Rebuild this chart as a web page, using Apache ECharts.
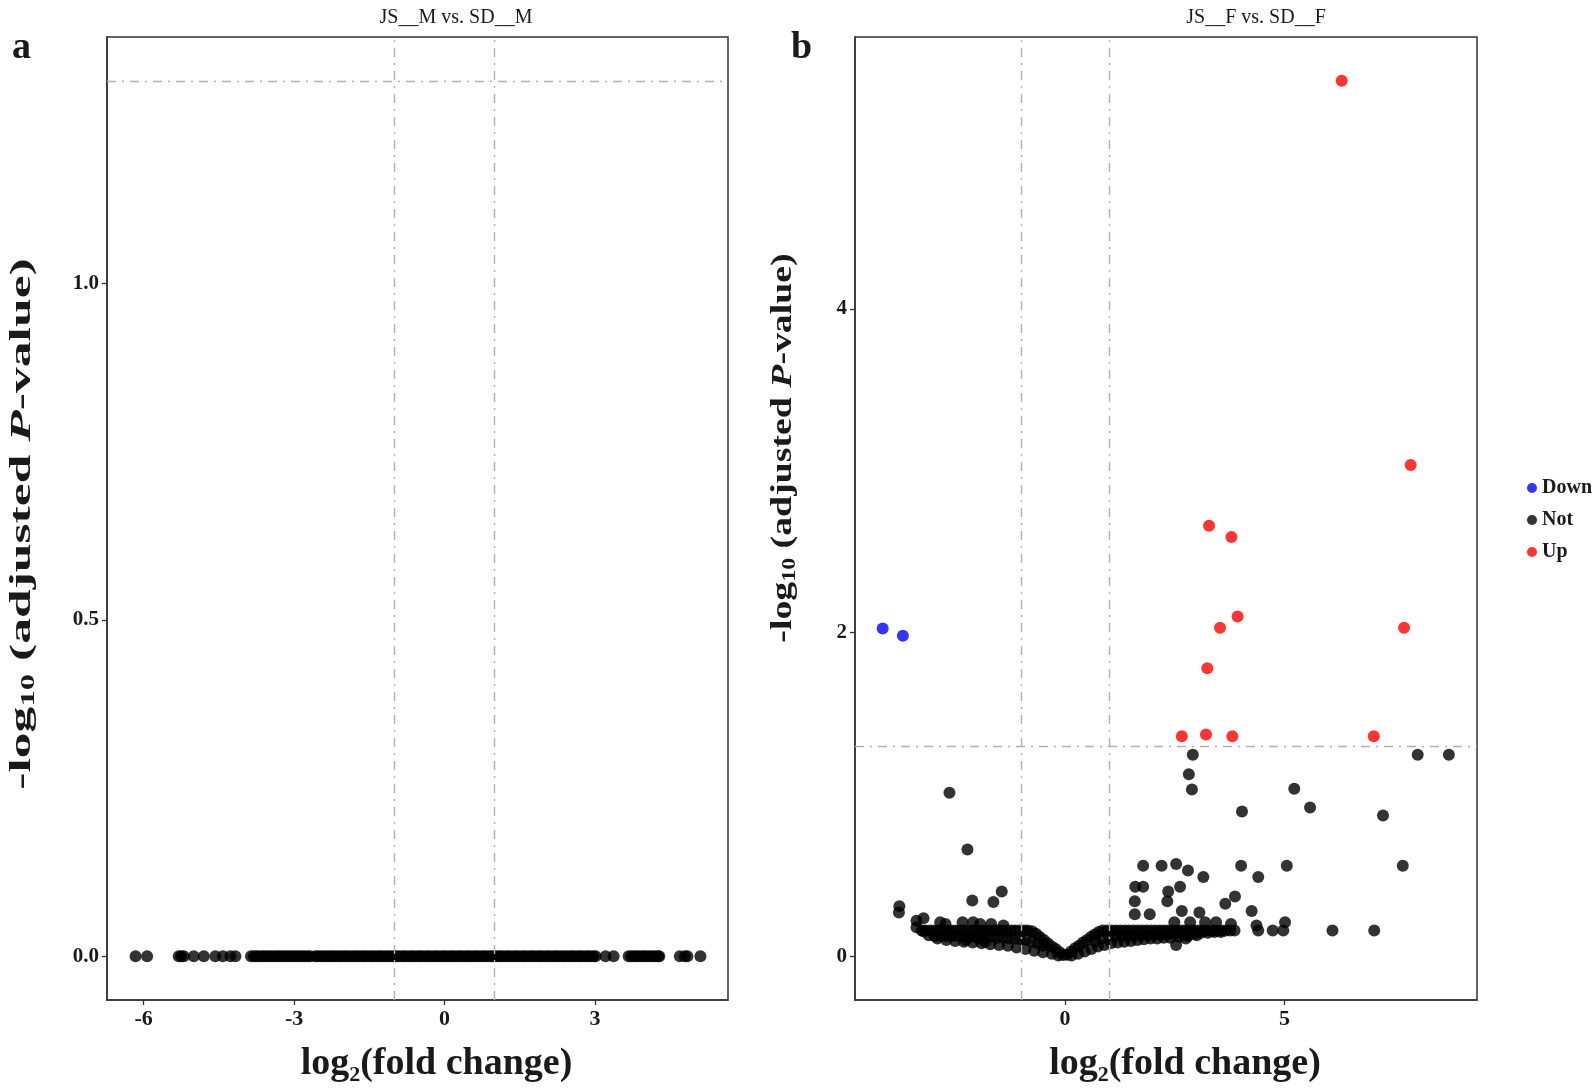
<!DOCTYPE html>
<html>
<head>
<meta charset="utf-8">
<script src="https://cdn.jsdelivr.net/npm/echarts@6/dist/echarts.min.js"></script>
<style>
  html, body { margin: 0; padding: 0; background: #fff; }
  #chart { width: 1595px; height: 1091px; }
</style>
</head>
<body>
<div id="chart"></div>
<script>
// panel a: JS__M vs. SD__M  (every gene sits at -log10 padj = 0)
const aNotX = [
  -6.16, -5.93, -5.30, -5.25, -5.20, -5.00, -4.80, -4.57, -4.42, -4.27, -4.17,
  -3.86, -3.80, -3.75, -3.70, -3.64, -3.59, -3.53, -3.48, -3.43, -3.37, -3.32, -3.27,
  -3.21, -3.16, -3.11, -3.05, -3.00, -2.95, -2.89, -2.84, -2.79, -2.73, -2.68,
  -2.58, -2.53, -2.47, -2.42, -2.37, -2.31, -2.26, -2.21, -2.15, -2.10, -2.05, -1.99,
  -1.94, -1.89, -1.83, -1.78, -1.73, -1.67, -1.62, -1.57, -1.51, -1.46, -1.41, -1.35,
  -1.30, -1.25, -1.19, -1.14, -1.09, -1.03, -0.98, -0.93, -0.87, -0.82, -0.77, -0.71,
  -0.66, -0.61, -0.55, -0.50, -0.45, -0.39, -0.34, -0.29, -0.23, -0.18, -0.13, -0.07,
  -0.02, 0.03, 0.09, 0.14, 0.19, 0.25, 0.30, 0.35, 0.41, 0.46, 0.51, 0.57, 0.62, 0.67,
  0.73, 0.78, 0.83, 0.89, 0.94, 0.99, 1.05, 1.10, 1.15, 1.21, 1.26, 1.31, 1.37, 1.42,
  1.47, 1.53, 1.58, 1.63, 1.69, 1.74, 1.79, 1.85, 1.90, 1.95, 2.01, 2.06, 2.11, 2.17,
  2.22, 2.27, 2.33, 2.38, 2.43, 2.49, 2.54, 2.59, 2.65, 2.70, 2.75, 2.81, 2.86, 2.91,
  2.97, 3.01, 3.21, 3.37,
  3.67, 3.72, 3.78, 3.83, 3.88, 3.94, 3.99, 4.04, 4.10, 4.15, 4.20, 4.26, 4.28,
  4.69, 4.79, 4.84, 5.10
];

// panel b: JS__F vs. SD__F
const bDown = [[-4.15, 2.025], [-3.69, 1.98]];
const bUp = [
  [6.30, 5.41], [7.87, 3.035], [3.28, 2.66], [3.79, 2.59], [3.93, 2.10], [3.53, 2.03],
  [7.72, 2.03], [3.24, 1.78], [2.66, 1.36], [3.21, 1.37], [3.81, 1.36], [7.03, 1.36]
];
// dense V-shaped band of non-significant genes
const bNotBand = [
  // upper edge, left flat part
  [-3.26, 0.16], [-3.17, 0.16], [-3.07, 0.16], [-2.97, 0.16], [-2.88, 0.16], [-2.78, 0.16],
  [-2.68, 0.16], [-2.59, 0.16], [-2.49, 0.16], [-2.39, 0.16], [-2.30, 0.16], [-2.20, 0.16],
  [-2.10, 0.16], [-2.01, 0.16], [-1.91, 0.16], [-1.81, 0.16], [-1.72, 0.16], [-1.62, 0.16],
  [-1.52, 0.16], [-1.43, 0.16], [-1.33, 0.16], [-1.23, 0.16], [-1.14, 0.16], [-1.04, 0.16],
  [-0.94, 0.16], [-0.85, 0.16], [-0.75, 0.155],
  // V arms
  [-0.66, 0.14], [-0.57, 0.12], [-0.48, 0.10], [-0.39, 0.08], [-0.30, 0.06], [-0.21, 0.045],
  [-0.12, 0.025], [-0.04, 0.008],
  [0.05, 0.01], [0.14, 0.03], [0.23, 0.05], [0.32, 0.065], [0.41, 0.085], [0.50, 0.10],
  [0.59, 0.12], [0.68, 0.135], [0.77, 0.15],
  // upper edge, right flat part
  [0.86, 0.16], [0.96, 0.16], [1.06, 0.16], [1.16, 0.16], [1.26, 0.16], [1.36, 0.16],
  [1.46, 0.16], [1.56, 0.16], [1.66, 0.16], [1.76, 0.16], [1.86, 0.16], [1.96, 0.16],
  [2.06, 0.16], [2.16, 0.16], [2.26, 0.16], [2.36, 0.16], [2.46, 0.16], [2.56, 0.16],
  [2.66, 0.16], [2.76, 0.16], [2.86, 0.16], [2.96, 0.16], [3.06, 0.16], [3.16, 0.16],
  [3.26, 0.16], [3.36, 0.16], [3.46, 0.16], [3.56, 0.16], [3.66, 0.16], [3.76, 0.16],
  [3.86, 0.16],
  // middle, left
  [-3.10, 0.13], [-2.97, 0.125], [-2.84, 0.125], [-2.71, 0.125], [-2.58, 0.125], [-2.45, 0.125],
  [-2.32, 0.125], [-2.19, 0.125], [-2.06, 0.12], [-1.93, 0.12], [-1.80, 0.12], [-1.67, 0.12],
  [-1.54, 0.115], [-1.41, 0.115], [-1.28, 0.11], [-1.15, 0.11], [-1.02, 0.105], [-0.89, 0.10],
  [-0.76, 0.09], [-0.63, 0.08], [-0.50, 0.065],
  // lower edge, left
  [-2.90, 0.11], [-2.70, 0.10], [-2.50, 0.095], [-2.30, 0.09], [-2.10, 0.085], [-1.90, 0.08],
  [-1.70, 0.075], [-1.50, 0.07], [-1.30, 0.065], [-1.10, 0.055], [-0.90, 0.045], [-0.70, 0.035],
  [-0.50, 0.025], [-0.30, 0.015], [-0.15, 0.005],
  // middle, right
  [0.70, 0.09], [0.85, 0.11], [1.00, 0.125], [1.15, 0.125], [1.30, 0.125], [1.45, 0.125],
  [1.60, 0.13], [1.75, 0.13], [1.90, 0.13], [2.05, 0.135], [2.20, 0.135], [2.35, 0.135],
  [2.50, 0.14], [2.65, 0.14], [2.80, 0.14], [2.95, 0.14], [3.10, 0.145], [3.25, 0.145],
  [3.40, 0.15], [3.55, 0.15],
  // lower edge, right
  [0.15, 0.005], [0.30, 0.015], [0.45, 0.03], [0.60, 0.045], [0.75, 0.06], [0.90, 0.07],
  [1.05, 0.08], [1.20, 0.085], [1.35, 0.09], [1.50, 0.095], [1.65, 0.10], [1.80, 0.105],
  [1.95, 0.11], [2.10, 0.11], [2.25, 0.115], [2.40, 0.115], [2.60, 0.12], [2.80, 0.125],
  [3.00, 0.13]
];
// scattered non-significant genes
const bNotScatter = [
  [-3.77, 0.31], [-3.78, 0.27], [-3.38, 0.22], [-3.22, 0.235], [-3.38, 0.18], [-3.22, 0.155],
  [-2.84, 0.21], [-2.72, 0.20], [-2.33, 0.21], [-2.09, 0.21], [-1.93, 0.20], [-1.68, 0.20],
  [-1.40, 0.19], [-2.25, 0.10], [-1.97, 0.11], [-1.82, 0.09], [-2.11, 0.345], [-1.63, 0.335],
  [-1.44, 0.40], [-2.22, 0.66], [-2.63, 1.01],
  [2.91, 1.245], [2.82, 1.125], [2.89, 1.03], [4.03, 0.895], [1.78, 0.56], [2.20, 0.56],
  [2.53, 0.57], [2.80, 0.53], [3.15, 0.49], [4.01, 0.56], [4.40, 0.49], [1.60, 0.43],
  [1.78, 0.43], [2.35, 0.40], [2.62, 0.43], [2.33, 0.34], [1.59, 0.34], [3.87, 0.37],
  [3.65, 0.325], [1.59, 0.26], [1.93, 0.26], [2.66, 0.28], [3.06, 0.27], [4.25, 0.28],
  [2.49, 0.21], [2.85, 0.21], [3.19, 0.21], [3.44, 0.21], [3.78, 0.20], [4.36, 0.19],
  [4.40, 0.16], [4.73, 0.16], [4.97, 0.16], [5.01, 0.21], [2.53, 0.07], [2.75, 0.11],
  [5.22, 1.035], [5.58, 0.92], [7.24, 0.87], [5.05, 0.56], [7.69, 0.56], [6.09, 0.16],
  [7.04, 0.16], [8.03, 1.245], [8.74, 1.245]
];

// tick labels / thresholds
const aXTicks = [-6, -3, 0, 3];
const aYTicks = [0, 0.5, 1.0];
const bXTicks = [0, 5];
const bYTicks = [0, 2, 4];
const fcCut = [-1, 1];
const padjCut = 1.301; // -log10(0.05)

const serif = '"Liberation Serif", "DejaVu Serif", serif';
const ink = '#1a1a1a';

const myChart = echarts.init(document.getElementById('chart'));

function xAxisOf(idx, min, max, ticks) {
  return {
    type: 'value', gridIndex: idx, min: min, max: max,
    name: '{a|log}{s|2}{a|(fold change)}',
    nameLocation: 'middle', nameGap: 42,
    nameTextStyle: {
      padding: [0, 0, 0, 38],
      rich: {
        a: { fontFamily: serif, fontWeight: 'bold', fontSize: 38, color: ink, lineHeight: 44 },
        s: { fontFamily: serif, fontWeight: 'bold', fontSize: 22, color: ink, lineHeight: 22, verticalAlign: 'bottom' }
      }
    },
    axisLine: { show: true, onZero: false, lineStyle: { color: '#333', width: 1.5 } },
    axisTick: { show: true, length: 5, customValues: ticks, lineStyle: { color: '#333', width: 1.3 } },
    axisLabel: { customValues: ticks, fontFamily: serif, fontWeight: 'bold', fontSize: 22, color: ink, margin: 8 },
    splitLine: { show: false }
  };
}

function yAxisOf(idx, min, max, ticks, fmt) {
  return {
    type: 'value', gridIndex: idx, min: min, max: max,
    axisLine: { show: true, onZero: false, lineStyle: { color: '#333', width: 1.5 } },
    axisTick: { show: true, length: 5, customValues: ticks, lineStyle: { color: '#333', width: 1.3 } },
    axisLabel: { customValues: ticks, formatter: fmt, fontFamily: serif, fontWeight: 'bold', fontSize: 21, color: ink, margin: 8 },
    splitLine: { show: false }
  };
}

// -log10 (adjusted P-value), stretched along its length like the source figure
function yTitle(x, y, stretch) {
  return {
    type: 'text', x: x, y: y, rotation: Math.PI / 2, scaleX: stretch,
    style: {
      text: '{a|-log}{s|10}{a| (adjusted }{i|P}{a|-value)}',
      align: 'center', verticalAlign: 'middle',
      rich: {
        a: { fontFamily: serif, fontWeight: 'bold', fontSize: 30, fill: ink, lineHeight: 34 },
        s: { fontFamily: serif, fontWeight: 'bold', fontSize: 19, fill: ink, lineHeight: 19, verticalAlign: 'bottom' },
        i: { fontFamily: serif, fontWeight: 'bold', fontStyle: 'italic', fontSize: 30, fill: ink, lineHeight: 34 }
      }
    }
  };
}

const cutStyle = { color: '#b0b0b0', width: 1.4, type: [9, 6, 2, 6] };

function cutLines(xIdx) {
  return {
    type: 'scatter', xAxisIndex: xIdx, yAxisIndex: xIdx, data: [], z: 5, silent: true,
    markLine: {
      silent: true, symbol: 'none', label: { show: false }, lineStyle: cutStyle,
      data: [{ xAxis: fcCut[0] }, { xAxis: fcCut[1] }, { yAxis: padjCut }]
    }
  };
}

const notStyle = { color: '#000', opacity: 0.8 };
const dot = 12;

let option = {
  animation: false,
  backgroundColor: '#fff',
  title: [
    { text: 'JS__M vs. SD__M', left: 451, top: 3, textAlign: 'center',
      textStyle: { fontFamily: serif, fontWeight: 'normal', fontSize: 20, color: ink } },
    { text: 'JS__F vs. SD__F', left: 1251, top: 3, textAlign: 'center',
      textStyle: { fontFamily: serif, fontWeight: 'normal', fontSize: 20, color: ink } }
  ],
  legend: {
    orient: 'vertical', left: 1522, top: 473,
    itemWidth: 10, itemHeight: 10, itemGap: 12,
    textStyle: { fontFamily: serif, fontWeight: 'bold', fontSize: 20, color: ink, lineHeight: 17 },
    data: [{ name: 'Down', icon: 'circle' }, { name: 'Not', icon: 'circle' }, { name: 'Up', icon: 'circle' }]
  },
  grid: [
    { left: 107, top: 37, width: 621, height: 963, show: true, borderColor: '#333', borderWidth: 1.5 },
    { left: 855, top: 37, width: 622, height: 963, show: true, borderColor: '#333', borderWidth: 1.5 }
  ],
  xAxis: [
    xAxisOf(0, -6.73, 5.65, aXTicks),
    xAxisOf(1, -4.78, 9.38, bXTicks)
  ],
  yAxis: [
    yAxisOf(0, -0.065, 1.366, aYTicks, v => v.toFixed(1)),
    yAxisOf(1, -0.27, 5.68, bYTicks, v => String(v))
  ],
  graphic: [
    { type: 'text', x: 12, y: 48, style: { text: 'a', fontFamily: serif, fontWeight: 'bold', fontSize: 38, fill: ink, verticalAlign: 'middle' } },
    { type: 'text', x: 791, y: 48, style: { text: 'b', fontFamily: serif, fontWeight: 'bold', fontSize: 38, fill: ink, verticalAlign: 'middle' } },
    yTitle(22, 524, 1.72),
    yTitle(783, 448, 1.26)
  ],
  series: [
    { name: 'Not', type: 'scatter', xAxisIndex: 0, yAxisIndex: 0, symbolSize: dot,
      itemStyle: notStyle, data: aNotX.map(x => [x, 0]) },
    cutLines(0),
    { name: 'Not', type: 'scatter', xAxisIndex: 1, yAxisIndex: 1, symbolSize: dot,
      itemStyle: notStyle, data: bNotBand.concat(bNotScatter) },
    { name: 'Down', type: 'scatter', xAxisIndex: 1, yAxisIndex: 1, symbolSize: dot,
      itemStyle: { color: '#1010ff', opacity: 0.85 }, data: bDown },
    { name: 'Up', type: 'scatter', xAxisIndex: 1, yAxisIndex: 1, symbolSize: dot,
      itemStyle: { color: '#ff1010', opacity: 0.85 }, data: bUp },
    cutLines(1)
  ]
};

myChart.setOption(option);
window.addEventListener('resize', myChart.resize);
</script>
</body>
</html>
